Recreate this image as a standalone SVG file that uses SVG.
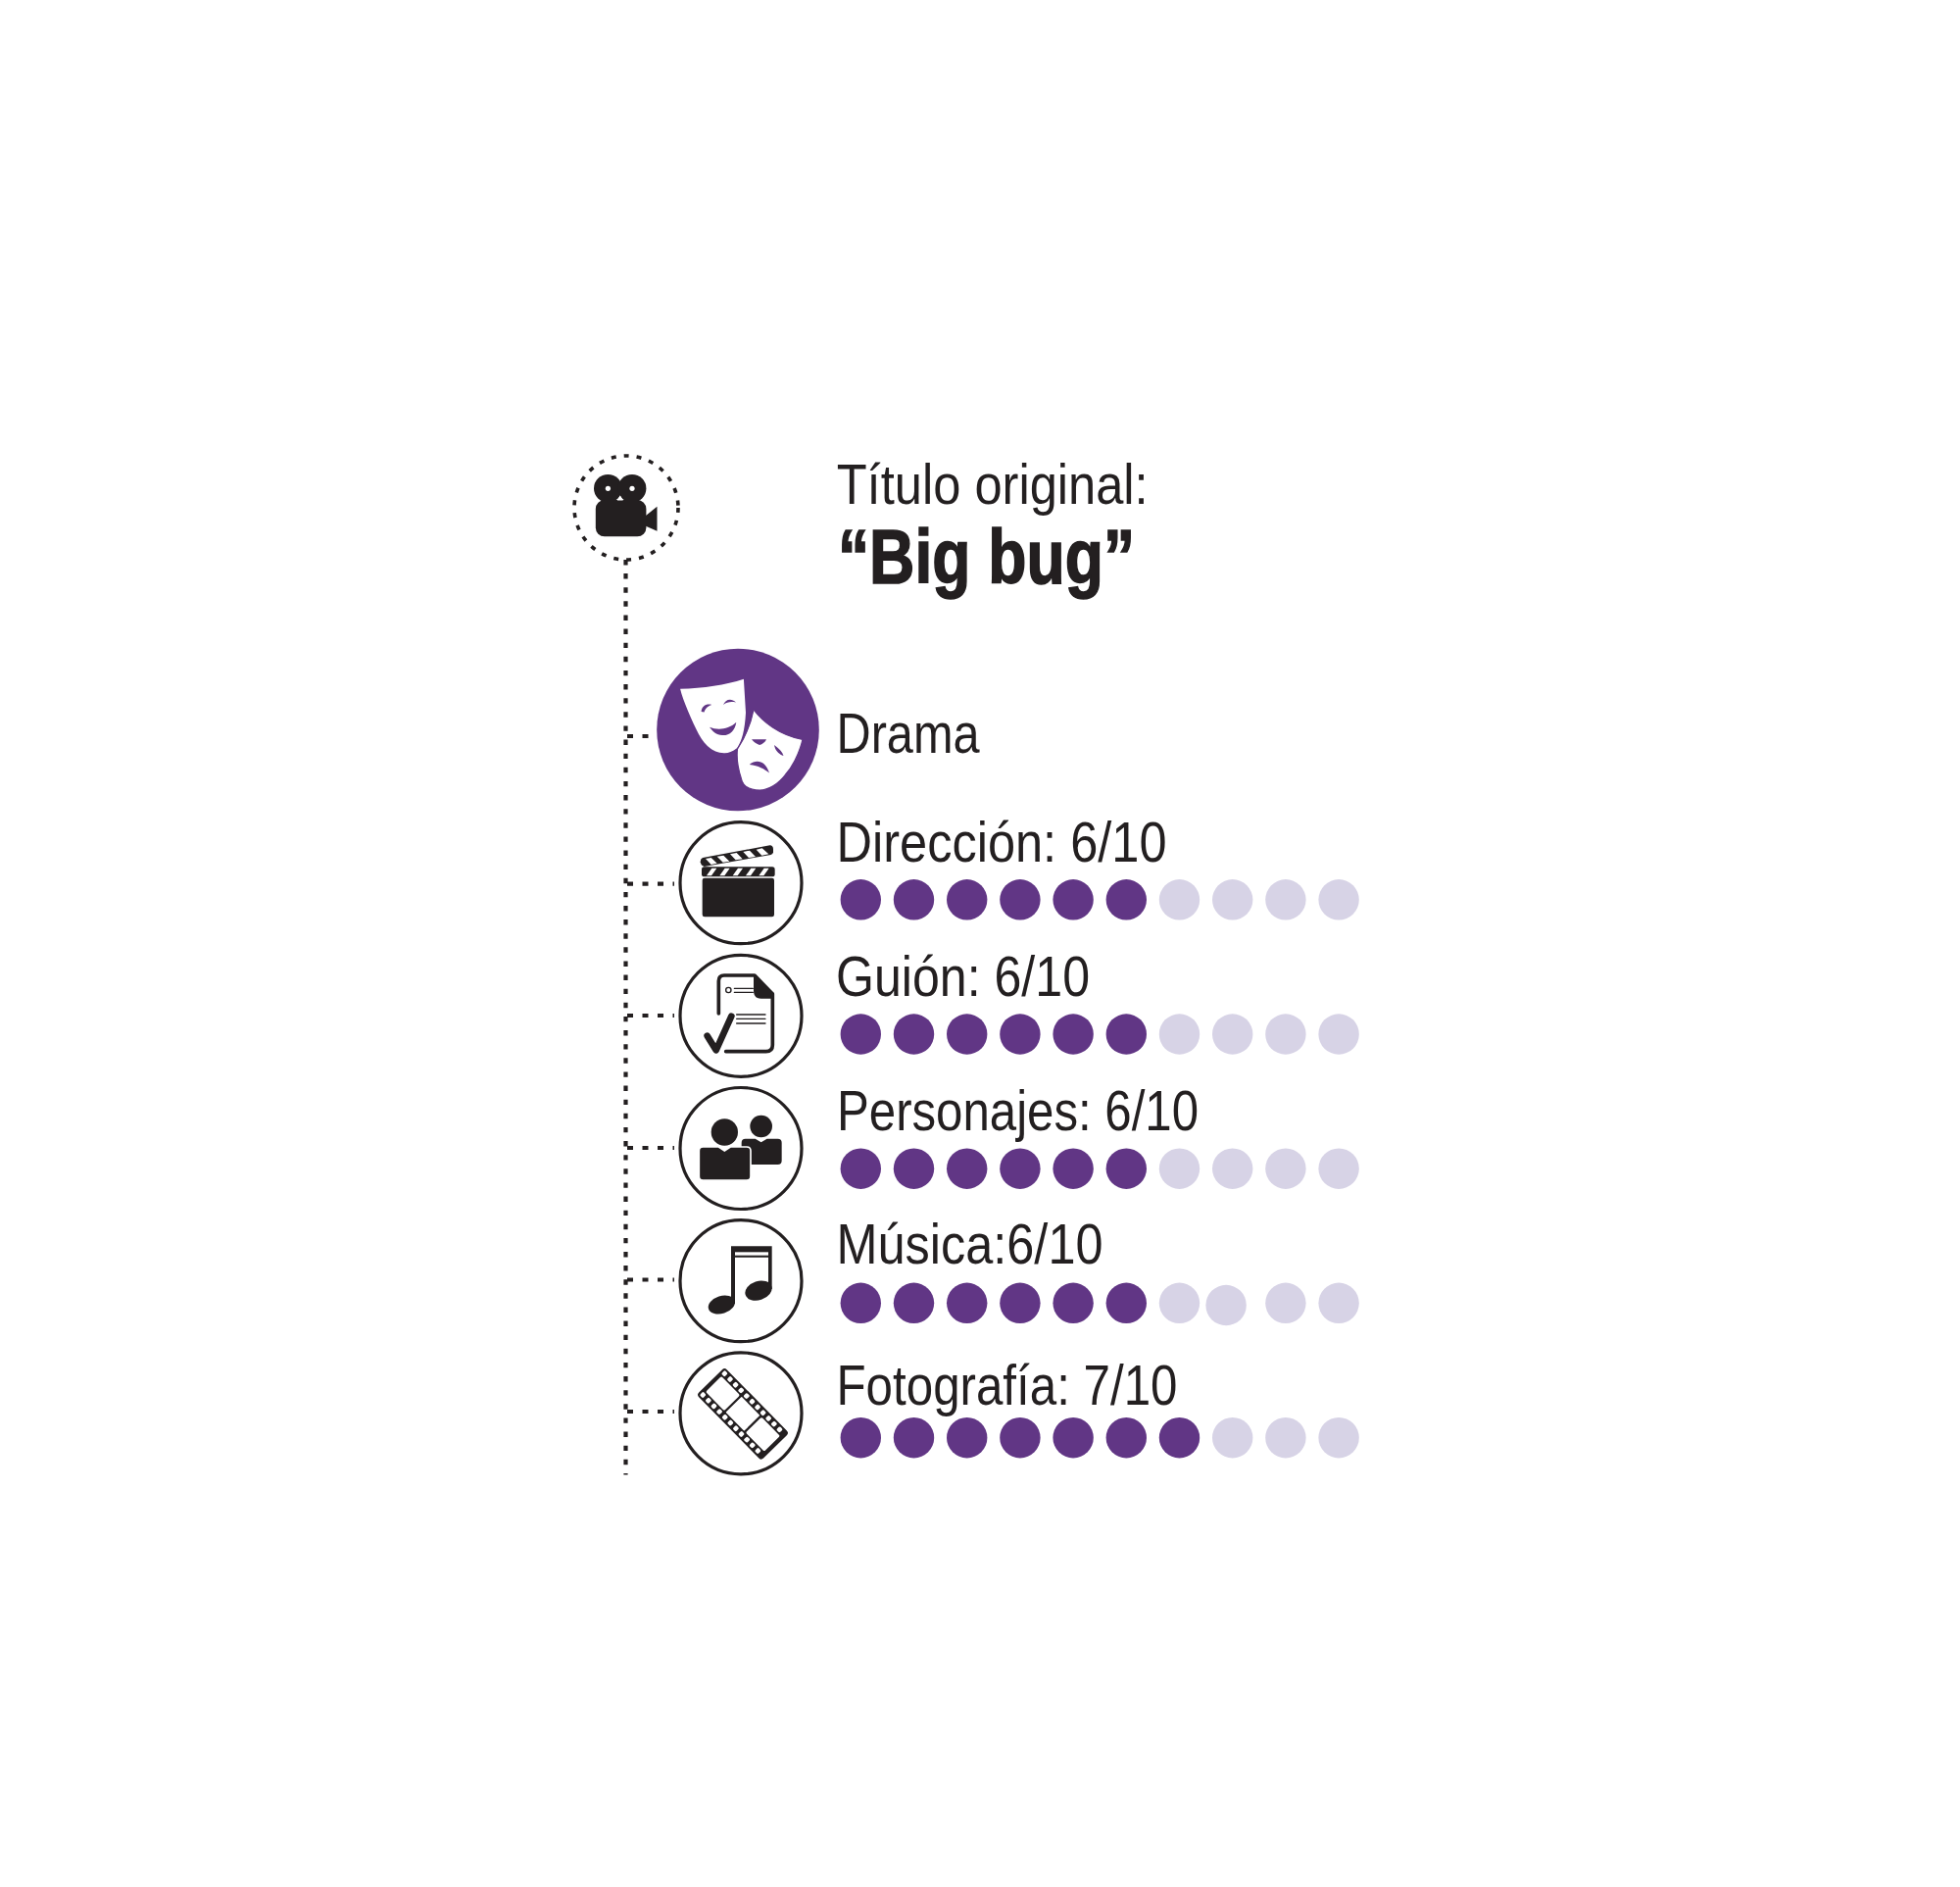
<svg xmlns="http://www.w3.org/2000/svg" width="2000" height="1925" viewBox="0 0 2000 1925">
<style>
.t{font-family:"Liberation Sans",Arial,sans-serif;font-size:57.5px;fill:#231f20}
.b{font-family:"Liberation Sans",Arial,sans-serif;font-size:77px;font-weight:700;fill:#231f20;stroke:#231f20;stroke-width:1.6}
.k{fill:#231f20}
.w{fill:#fff}
.p{fill:#613685}
.l{fill:#d7d3e6}
.r{fill:#fff;stroke:#231f20;stroke-width:3.2}
.c{fill:none;stroke:#231f20;stroke-width:4.2}
.ic{fill:none;stroke:#231f20;stroke-linecap:round;stroke-linejoin:round}
</style>
<defs>
<circle id="dp" r="20.7" class="p"/>
<circle id="dl" r="20.7" class="l"/>
</defs>
<rect width="2000" height="1925" fill="#fff"/>
<g id="connectors">
<path class="c" stroke-dasharray="5.4 8.72" d="M638.500 571V1504.500"/>
<path class="c" stroke-dasharray="6 9.500" d="M640 751H671M640 901.700H688M640 1036H688M640 1171H688M640 1305.500H688M640 1440H688"/>
</g>
<g id="node-camera">
<circle cx="639" cy="518" r="53" fill="none" stroke="#231f20" stroke-width="3.600" stroke-dasharray="5 8"/>
<circle class="k" cx="620.400" cy="498.300" r="14.400"/>
<circle class="k" cx="645" cy="498.300" r="14.400"/>
<circle class="w" cx="620.400" cy="498.300" r="2.600"/>
<circle class="w" cx="645" cy="498.300" r="2.600"/>
<rect class="k" x="607.800" y="510" width="51.600" height="37.300" rx="9"/>
<path class="k" d="M659 526L670.500 516.700V541.700L659 536.700Z"/>
<path class="w" d="M632.800 505.500L635.800 510.500H629.800Z"/>
<text class="t" x="853.700" y="514" textLength="318" lengthAdjust="spacingAndGlyphs">Título original:</text>
<text class="b" x="855" y="595" textLength="303" lengthAdjust="spacingAndGlyphs">“Big bug”</text>
</g>
<g id="node-drama">
<circle class="p" cx="753" cy="744.500" r="82.800"/>
<path class="w" d="M694.100 702.700C718 702 740 699 758.900 692.700L761 727C760 745 757 756 752.200 763C747 767 743 768.500 738.800 768.300C727 768 719 760 713 749C706 735 697 715 694.100 702.700Z"/>
<path class="p" d="M715.600 726C716 720 721 717.500 726.300 719C722 720.500 720 722.500 718.500 726.500ZM738 719C740 713.500 746 711.500 751 716.500C746 715.500 742 716 738 719ZM724 741.700C732 745 743 744.500 751.300 736.700C750 746 744 750.500 737 750C731 750 727 746 724 741.700Z"/>
<path class="w" d="M769 724C778 736 795 750 819 754.500C815 771 807 784 801.600 790C794 800 784 806 775.300 806C765 806 758 802 756.300 794C752.500 782 751.500 772 752.500 764C757 757 765 745 769 724Z" stroke="#613685" stroke-width="1.200"/>
<path class="p" d="M767 754.300H782C781 757 778 759.300 775 760C771 758.500 769 757 767 754.300ZM790 760C794 763 798 766 799.500 771C795 769.500 791 766 790 760ZM764.700 780C772 774 781 776 785 788.500C780 784.500 774 781 764.700 780Z"/>
<text class="t" x="853.500" y="768.300" textLength="146" lengthAdjust="spacingAndGlyphs">Drama</text>
</g>
<g id="node-direccion">
<circle class="r" cx="756" cy="900.700" r="62"/>
<g transform="translate(620,830) scale(.33333)">
<rect class="k" x="290" y="197" width="220" height="119" rx="7"/>
<rect class="k" x="288" y="163" width="224" height="30" rx="8"/>
<path class="w" d="M303 190L319 167H334L318 190ZM343 190L359 167H374L358 190ZM383 190L399 167H414L398 190ZM423 190L439 167H454L438 190ZM463 190L479 167H494L478 190Z"/>
<path class="k" d="M291 135L497 97Q506 97 507 108L507 118Q506 124 500 126L296 162Q286 160 284 148Q284 138 291 135Z"/>
<path class="w" d="M300 138L317 135L335 152L317 156ZM335 131L355 128L373 146L353 149ZM375 124L395 120L413 139L392 142ZM415 117L435 113L453 132L432 135ZM455 110L473 106L493 124L472 128Z"/>
</g>
<text class="t" x="853.500" y="879.300" textLength="337" lengthAdjust="spacingAndGlyphs">Dirección: 6/10</text>
<g><use href="#dp" x="878.300" y="917.800"/><use href="#dp" x="932.500" y="917.800"/><use href="#dp" x="986.700" y="917.800"/><use href="#dp" x="1040.900" y="917.800"/><use href="#dp" x="1095.100" y="917.800"/><use href="#dp" x="1149.300" y="917.800"/><use href="#dl" x="1203.500" y="917.800"/><use href="#dl" x="1257.700" y="917.800"/><use href="#dl" x="1311.900" y="917.800"/><use href="#dl" x="1366.100" y="917.800"/></g>
</g>
<g id="node-guion">
<circle class="r" cx="756" cy="1036.300" r="62"/>
<g transform="translate(620,830) scale(.33333)">
<path class="ic" stroke-width="11" d="M340 612V512Q340 495 357 495H450L505 552V708Q505 728 485 728H362"/>
<path class="k" d="M447 492L510 550V566H470Q447 566 447 542Z"/>
<path class="ic" stroke-width="20" d="M305 680L332 724L379 620"/>
<circle cx="370" cy="540" r="8" fill="none" stroke="#231f20" stroke-width="4"/>
<path class="ic" stroke-width="4" stroke-linecap="butt" d="M388 535H445M388 547H445M395 615H483M395 628H483M395 642H483"/>
</g>
<text class="t" x="853" y="1016" textLength="259" lengthAdjust="spacingAndGlyphs">Guión: 6/10</text>
<g><use href="#dp" x="878.300" y="1055"/><use href="#dp" x="932.500" y="1055"/><use href="#dp" x="986.700" y="1055"/><use href="#dp" x="1040.900" y="1055"/><use href="#dp" x="1095.100" y="1055"/><use href="#dp" x="1149.300" y="1055"/><use href="#dl" x="1203.500" y="1055"/><use href="#dl" x="1257.700" y="1055"/><use href="#dl" x="1311.900" y="1055"/><use href="#dl" x="1366.100" y="1055"/></g>
</g>
<g id="node-personajes">
<circle class="r" cx="756" cy="1171.500" r="62"/>
<g transform="translate(620,1100) scale(.33333)">
<circle class="k" cx="470" cy="147" r="34"/>
<path class="k" d="M422 185H452L470 196L488 185H521Q533 185 533 197V252Q533 264 521 264H422Q410 264 410 252V197Q410 185 422 185Z"/>
<circle class="k" cx="358" cy="165" r="41"/>
<path class="k" stroke="#fff" stroke-width="5" d="M292 210H340L358 222L376 210H426Q438 210 438 222V300Q438 312 426 312H292Q280 312 280 300V222Q280 210 292 210Z"/>
</g>
<text class="t" x="854" y="1152.700" textLength="369" lengthAdjust="spacingAndGlyphs">Personajes: 6/10</text>
<g><use href="#dp" x="878.300" y="1192.200"/><use href="#dp" x="932.500" y="1192.200"/><use href="#dp" x="986.700" y="1192.200"/><use href="#dp" x="1040.900" y="1192.200"/><use href="#dp" x="1095.100" y="1192.200"/><use href="#dp" x="1149.300" y="1192.200"/><use href="#dl" x="1203.500" y="1192.200"/><use href="#dl" x="1257.700" y="1192.200"/><use href="#dl" x="1311.900" y="1192.200"/><use href="#dl" x="1366.100" y="1192.200"/></g>
</g>
<g id="node-musica">
<circle class="r" cx="756" cy="1306.700" r="62"/>
<g transform="translate(620,1100) scale(.33333)">
<path class="k" d="M378 514H503V645H492V548H390V690H378Z"/>
<rect class="w" x="390" y="532" width="102" height="10"/>
<ellipse class="k" cx="349" cy="693" rx="42" ry="27" transform="rotate(-18 349 693)"/>
<ellipse class="k" cx="462" cy="650" rx="42" ry="29" transform="rotate(-18 462 650)"/>
</g>
<text class="t" x="853.500" y="1289.300" textLength="272" lengthAdjust="spacingAndGlyphs">Música:6/10</text>
<g><use href="#dp" x="878.300" y="1329.300"/><use href="#dp" x="932.500" y="1329.300"/><use href="#dp" x="986.700" y="1329.300"/><use href="#dp" x="1040.900" y="1329.300"/><use href="#dp" x="1095.100" y="1329.300"/><use href="#dp" x="1149.300" y="1329.300"/><use href="#dl" x="1203.500" y="1329.300"/><use href="#dl" x="1251.100" y="1331.500"/><use href="#dl" x="1311.900" y="1329.300"/><use href="#dl" x="1366.100" y="1329.300"/></g>
</g>
<g id="node-fotografia">
<circle class="r" cx="756" cy="1441.800" r="62"/>
<g transform="translate(620,1100) scale(.33333) translate(414,1027) rotate(45.500)">
<rect class="k" x="-141" y="-60" width="282" height="120" rx="10"/>
<rect class="w" x="-128" y="-34" width="81" height="68" rx="5"/><rect class="w" x="-40" y="-34" width="80" height="68" rx="2"/><rect class="w" x="47" y="-34" width="81" height="68" rx="5"/>
<g class="w"><rect x="-134" y="-54" width="14" height="15" rx="4"/><rect x="-110" y="-54" width="14" height="15" rx="4"/><rect x="-86" y="-54" width="14" height="15" rx="4"/><rect x="-62" y="-54" width="14" height="15" rx="4"/><rect x="-38" y="-54" width="14" height="15" rx="4"/><rect x="-14" y="-54" width="14" height="15" rx="4"/><rect x="10" y="-54" width="14" height="15" rx="4"/><rect x="34" y="-54" width="14" height="15" rx="4"/><rect x="58" y="-54" width="14" height="15" rx="4"/><rect x="82" y="-54" width="14" height="15" rx="4"/><rect x="106" y="-54" width="14" height="15" rx="4"/>
<rect x="-134" y="39" width="14" height="15" rx="4"/><rect x="-110" y="39" width="14" height="15" rx="4"/><rect x="-86" y="39" width="14" height="15" rx="4"/><rect x="-62" y="39" width="14" height="15" rx="4"/><rect x="-38" y="39" width="14" height="15" rx="4"/><rect x="-14" y="39" width="14" height="15" rx="4"/><rect x="10" y="39" width="14" height="15" rx="4"/><rect x="34" y="39" width="14" height="15" rx="4"/><rect x="58" y="39" width="14" height="15" rx="4"/><rect x="82" y="39" width="14" height="15" rx="4"/><rect x="106" y="39" width="14" height="15" rx="4"/></g>
</g>
<text class="t" x="853.500" y="1433.300" textLength="348" lengthAdjust="spacingAndGlyphs">Fotografía: 7/10</text>
<g><use href="#dp" x="878.300" y="1466.700"/><use href="#dp" x="932.500" y="1466.700"/><use href="#dp" x="986.700" y="1466.700"/><use href="#dp" x="1040.900" y="1466.700"/><use href="#dp" x="1095.100" y="1466.700"/><use href="#dp" x="1149.300" y="1466.700"/><use href="#dp" x="1203.500" y="1466.700"/><use href="#dl" x="1257.700" y="1466.700"/><use href="#dl" x="1311.900" y="1466.700"/><use href="#dl" x="1366.100" y="1466.700"/></g>
</g>
</svg>
